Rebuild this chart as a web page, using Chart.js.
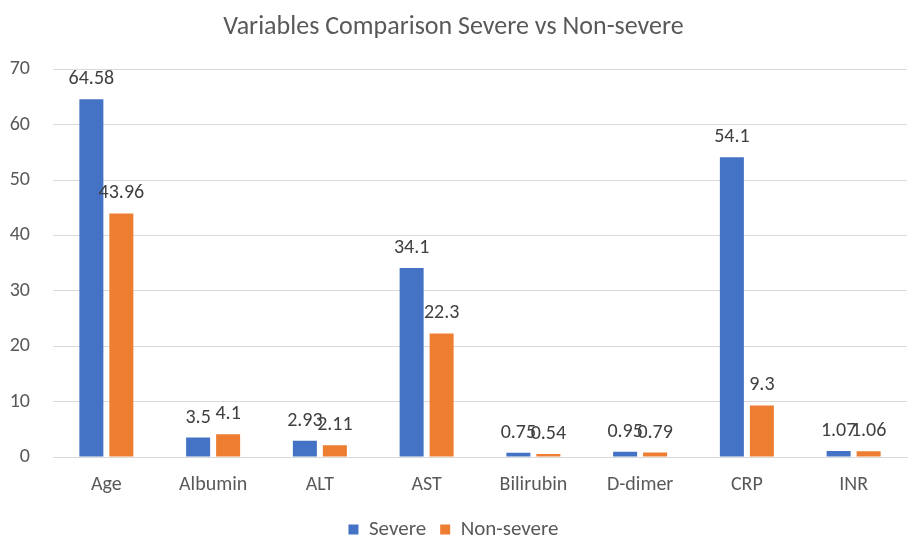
<!DOCTYPE html>
<html><head><meta charset="utf-8">
<script src="https://cdn.jsdelivr.net/npm/chart.js@4"></script>
<style>html,body{margin:0;padding:0;background:#fff}#wrap{width:920px;height:547px}</style>
</head><body><div id="wrap"><canvas id="c"></canvas></div>
<script>
const categories = ["Age","Albumin","ALT","AST","Bilirubin","D-dimer","CRP","INR"];
const severe = [64.58,3.5,2.93,34.1,0.75,0.95,54.1,1.07];
const nonSevere = [43.96,4.1,2.11,22.3,0.54,0.79,9.3,1.06];
const yTicks = [0,10,20,30,40,50,60,70];
const FONT = "Carlito, Lato, 'Open Sans', sans-serif";

const labelPlugin = {
  id:'barLabels',
  afterDatasetsDraw(chart){
    const ctx = chart.ctx;
    ctx.save();
    ctx.font = "20px " + FONT;
    ctx.fillStyle = "#404040";
    ctx.textAlign = "center";
    ctx.textBaseline = "alphabetic";
    chart.data.datasets.forEach((ds,i)=>{
      chart.getDatasetMeta(i).data.forEach((bar,j)=>{
        ctx.fillText(String(ds.data[j]), bar.x, bar.y - 15);
      });
    });
    ctx.restore();
  }
};

new Chart(document.getElementById('c'),{
  type:'bar',
  data:{labels:categories,datasets:[
    {label:'Severe',data:severe,backgroundColor:'#4472C4',barPercentage:0.8,categoryPercentage:0.562},
    {label:'Non-severe',data:nonSevere,backgroundColor:'#ED7D31',barPercentage:0.8,categoryPercentage:0.562}
  ]},
  options:{
    responsive:true,maintainAspectRatio:false,animation:false,
    layout:{padding:{left:0,right:13,top:0,bottom:-3}},
    plugins:{
      title:{display:true,text:'Variables Comparison Severe vs Non-severe',color:'#595959',
        font:{family:FONT,size:26,weight:'normal'},padding:{top:12,bottom:26}},
      legend:{position:'bottom',labels:{color:'#595959',boxWidth:10,boxHeight:10,padding:14,
        font:{family:FONT,size:21}}},
      tooltip:{enabled:false}
    },
    scales:{
      x:{grid:{display:false},border:{display:true,color:'#d9d9d9',width:1},
        ticks:{color:'#595959',font:{family:FONT,size:20},padding:8}},
      y:{min:0,max:70,
        afterBuildTicks(s){s.ticks=yTicks.map(v=>({value:v}));},
        afterFit(s){s.width=53;},
        grid:{color:'#d9d9d9',drawTicks:false},border:{display:false},
        ticks:{color:'#595959',font:{family:FONT,size:20},padding:23}}
    }
  },
  plugins:[labelPlugin]
});
</script></body></html>
